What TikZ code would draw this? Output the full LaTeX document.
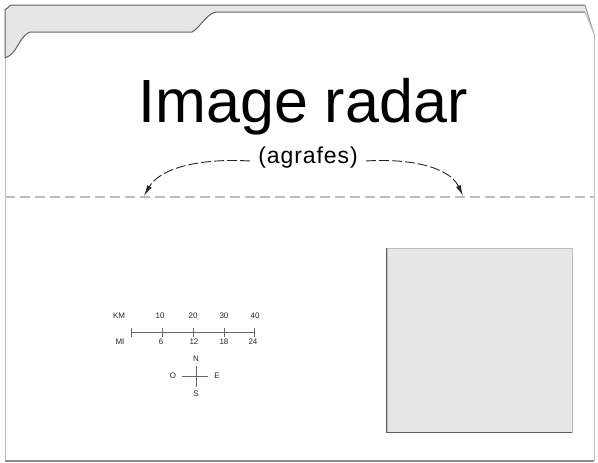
\documentclass[tikz,border=0pt]{standalone}
\usepackage{fontspec}
\setmainfont{Liberation Sans}
\newfontfamily\spacedfont[LetterSpace=4]{Liberation Sans}
\usetikzlibrary{arrows.meta}
\definecolor{tabgray}{HTML}{E6E6E6}
\definecolor{edgedark}{HTML}{606060}
\definecolor{edgemid}{HTML}{8C8C8C}
\definecolor{edgelight}{HTML}{BDBDBD}
\definecolor{boxfill}{HTML}{E6E6E6}
\tikzset{
  foldline/.style={draw=edgelight, line width=1.2pt, dash pattern=on 10pt off 5pt},
  staplearrow/.style={draw=black!85, line width=0.9pt, dash pattern=on 10pt off 3pt,
    -{Latex[length=11pt,width=5pt]}},
  scalelbl/.style={font=\fontsize{8}{8}\selectfont, inner sep=0pt, text=black!85},
  scaleline/.style={draw=black!60, line width=0.8pt},
}
\begin{document}
\begin{tikzpicture}[x=1pt,y=-1pt]
\useasboundingbox (0,0) rectangle (598,463);
% back panel (tab area)
\fill[tabgray] (5,60) -- (5,9) -- (11,5) -- (585,5) -- (594,34) -- (594,60) -- cycle;
\draw[edgedark, line width=1pt] (5,58) -- (5,10) -- (11,5) -- (585,5);
\draw[edgemid, line width=0.8pt] (585,5) -- (594,34);
% front panel
\fill[white] (5,58) -- (9,56) .. controls (18,50) and (20,36) .. (30,32) -- (192,32)
  .. controls (200,28) and (206,14) .. (216,12) -- (585,12) -- (594,34) -- (594,461) -- (5,461) -- cycle;
\draw[edgedark, line width=1pt] (5,58) -- (9,56) .. controls (18,50) and (20,36) .. (30,32) -- (192,32)
  .. controls (200,28) and (206,14) .. (216,12) -- (585,12);
\draw[edgelight, line width=1pt] (585,12) -- (594,34);
% page borders
\draw[edgelight, line width=1pt] (5,58) -- (5,461);
\draw[edgelight, line width=1pt] (594,34) -- (594,461);
\draw[edgemid, line width=1.2pt] (5,461) -- (594,461);
% fold line
\coordinate (foldL) at (5,197);
\coordinate (foldR) at (594,197);
\draw[foldline] (foldL) -- (foldR);
% title
\node[inner sep=0pt, anchor=base] (title) at (303,122) {\fontsize{61}{61}\selectfont Image radar};
\node[inner sep=0pt] (agr) at (308,158) {\spacedfont\fontsize{23}{23}\selectfont (agrafes)};
\coordinate (tipL) at (144,196);
\coordinate (tipR) at (463,196);
\draw[staplearrow] ([xshift=-8pt,yshift=-3pt]agr.west) .. controls (200,158) and (160,168) .. (tipL);
\draw[staplearrow] ([xshift=8pt,yshift=-3pt]agr.east) .. controls (412,158) and (450,168) .. (tipR);
% photo box
\node[draw=edgelight, fill=boxfill, line width=0.8pt, minimum width=185pt, minimum height=184pt, inner sep=0pt]
  (photo) at (479.5,340) {};
\draw[edgedark, line width=1.2pt] (photo.north west) -- (photo.south west) -- (photo.south east);
% scale
\coordinate (s0) at (131,332);
\coordinate (s1) at (162.5,332);
\coordinate (s2) at (193,332);
\coordinate (s3) at (224,332);
\coordinate (s4) at (254,332);
\draw[scaleline] (s0) -- (s4);
\foreach \c in {s0,s1,s2,s3,s4} \draw[scaleline] ([yshift=-5pt]\c) -- ([yshift=4pt]\c);
\node[scalelbl] (km) at (119,316) {KM};
\node[scalelbl] (k10) at (160,316) {10};
\node[scalelbl] (k20) at (193,316) {20};
\node[scalelbl] (k30) at (224,316) {30};
\node[scalelbl] (k40) at (255,316) {40};
\node[scalelbl] (mi) at (120,342) {MI};
\node[scalelbl] (m6) at (161,342) {6};
\node[scalelbl] (m12) at (194,342) {12};
\node[scalelbl] (m18) at (224,342) {18};
\node[scalelbl] (m24) at (253,342) {24};
% compass
\coordinate (cc) at (196,376);
\node[scalelbl] (cn) at (196,359) {N};
\node[scalelbl] (cs) at (196,394) {S};
\node[scalelbl] (co) at (173,376) {O};
\node[scalelbl] (ce) at (217,376) {E};
\draw[scaleline, line width=0.6pt] ([yshift=-11pt]cc) -- ([yshift=10pt]cc);
\draw[scaleline, line width=0.6pt] ([xshift=-14pt]cc) -- ([xshift=12pt]cc);
\end{tikzpicture}
\end{document}
